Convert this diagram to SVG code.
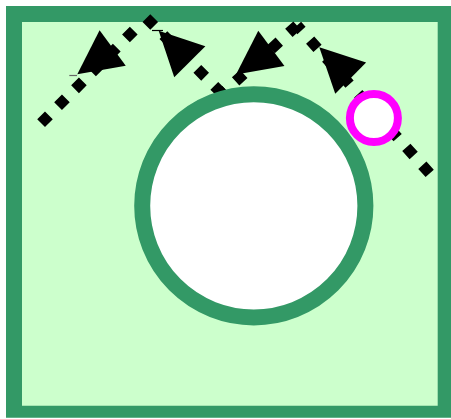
<svg xmlns="http://www.w3.org/2000/svg" xmlns:xlink="http://www.w3.org/1999/xlink" width="451" height="419" viewBox="0 0 451 419">
  <style>
    .frame { fill: #339966; fill-rule: evenodd; }
    .cellbg { fill: #ccffcc; }
    .flow { fill: none; stroke: #000000; stroke-width: 11; stroke-dasharray: 11 13; stroke-linecap: butt; }
    .head { fill: #000000; }
    .stub { stroke-width: 1.2; fill: none; }
  </style>
  <defs>
    <path id="arrowhead" d="M0,0 L-44,-22 L-44,22 Z"/>
  </defs>

  <g id="cell">
    <rect class="cellbg" x="22" y="22" width="416" height="384"/>
    <path class="frame" d="M6,6 H452 V417.7 H6 Z M22,22 V405.7 H437.7 V22 Z"/>
  </g>

  <g id="connectors">
    <line class="flow" x1="429.7" y1="173.4" x2="297" y2="25.5"/>
    <line class="flow" x1="297" y1="25.5" x2="222.1" y2="93.7"/>
    <line class="flow" x1="222.1" y1="93.7" x2="146.3" y2="18"/>
    <line class="flow" x1="41.1" y1="123.2" x2="142" y2="22.3"/>
    <use class="head" xlink:href="#arrowhead" transform="translate(319.3,47.3) rotate(224.5)"/>
    <use class="head" xlink:href="#arrowhead" transform="translate(236,74.5) rotate(143.5)"/>
    <use class="head" xlink:href="#arrowhead" transform="translate(158.7,30.7) rotate(225)"/>
    <use class="head" xlink:href="#arrowhead" transform="translate(77.3,74.2) rotate(143.5)"/>
    <line class="stub" x1="152" y1="30.5" x2="163" y2="30.5" stroke="#000000"/>
    <line class="stub" x1="69.3" y1="75.5" x2="77" y2="75.5" stroke="#666666"/>
  </g>

  <g id="nucleus">
    <circle cx="253.8" cy="205.8" r="111.6" fill="#ffffff" stroke="#339966" stroke-width="16"/>
  </g>

  <g id="vesicle">
    <circle cx="373.9" cy="118" r="24" fill="#ffffff" stroke="#ff00ff" stroke-width="8"/>
  </g>
</svg>
